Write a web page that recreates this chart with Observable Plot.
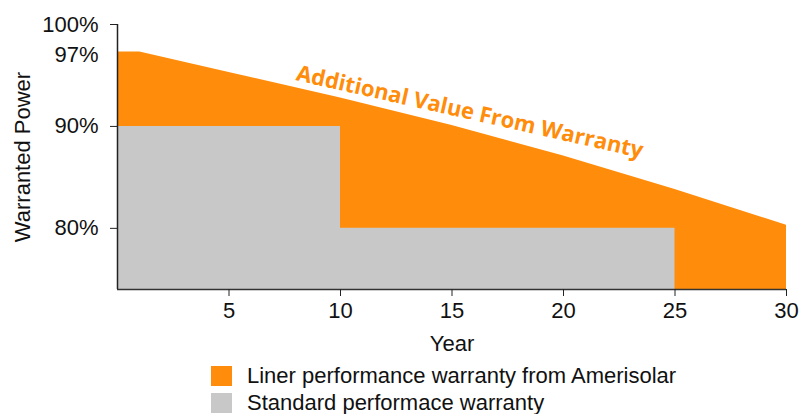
<!DOCTYPE html>
<html>
<head>
<meta charset="utf-8">
<script src="https://cdn.jsdelivr.net/npm/d3@7"></script>
<script src="https://cdn.jsdelivr.net/npm/@observablehq/plot@0.6"></script>
<style>
  body { margin: 0; background: #fff; font-family: "Liberation Sans", Arial, sans-serif; }
  #chart { width: 799px; }
  .legend { position: relative; height: 56px; font-size: 22px; color: #111; }
  .row { position: absolute; left: 211px; display: flex; align-items: center; line-height: 24px; }
  .sw { width: 21px; height: 20px; margin-right: 15px; }
</style>
</head>
<body>
<div id="chart"></div>
<script>
// Data
const years = [0, 1, 5, 10, 15, 20, 25, 30];
const linearWarranty = [97.3, 97.3, 95.3, 92.8, 90.1, 87.1, 83.8, 80.3];
const stdYears = [0, 10, 25];
const standardWarranty = [90, 80, 80];
const xTicks = [5, 10, 15, 20, 25, 30];
const yTicks = [80, 90, 100];
const yLabelTicks = [80, 90, 97, 100];
const legendLabels = ["Liner performance warranty from Amerisolar", "Standard performace warranty"];
const colors = ["#FF8C0A", "#C8C8C8"];
const annotation = [{x: 15.8, y: 91.4, text: "Additional Value From Warranty"}];

const linear = years.map((x, i) => ({x, y: linearWarranty[i]}));
const standard = stdYears.map((x, i) => ({x, y: standardWarranty[i]}));

const plot = Plot.plot({
  width: 799,
  height: 358,
  marginLeft: 117,
  marginRight: 13,
  marginTop: 24,
  marginBottom: 69,
  style: {fontFamily: "Liberation Sans, Arial, sans-serif", fontSize: "22px", color: "#111"},
  x: {domain: [0, 30]},
  y: {domain: [74, 100]},
  marks: [
    Plot.areaY(linear, {x: "x", y: "y", fill: colors[0], clip: true}),
    Plot.areaY(standard, {x: "x", y: "y", fill: colors[1], curve: "step-after", clip: true}),
    Plot.ruleX([0], {stroke: "#222", strokeWidth: 1.5}),
    Plot.ruleY([74], {stroke: "#333", strokeWidth: 1.5}),
    Plot.axisX(xTicks, {tickSize: 7, tickPadding: 6, fontSize: 22, stroke: "#222", label: null}),
    Plot.axisY(yTicks, {tickSize: 7, tickFormat: () => "", stroke: "#222", label: null}),
    Plot.axisY(yLabelTicks, {tickSize: 0, tickPadding: 19, fontSize: 22, tickFormat: d => d + "%", label: null}),
    Plot.text(["Year"], {frameAnchor: "bottom", lineAnchor: "middle", dy: 54, fontSize: 22, fill: "#111"}),
    Plot.text(["Warranted Power"], {frameAnchor: "left", textAnchor: "middle", lineAnchor: "middle", dx: -95, rotate: -90, fontSize: 22, fill: "#111"}),
    Plot.text(annotation, {x: "x", y: "y", text: "text", rotate: 12.7, fill: colors[0], fontSize: 22, fontWeight: "bold", fontFamily: "Open Sans"})
  ]
});
document.getElementById("chart").appendChild(plot);

const legend = document.createElement("div");
legend.className = "legend";
legendLabels.forEach((label, i) => {
  const row = document.createElement("div");
  row.className = "row";
  row.style.top = (6 + i * 27) + "px";
  const sw = document.createElement("div");
  sw.className = "sw";
  sw.style.background = colors[i];
  const t = document.createElement("span");
  t.textContent = label;
  row.appendChild(sw);
  row.appendChild(t);
  legend.appendChild(row);
});
document.getElementById("chart").appendChild(legend);
</script>
</body>
</html>
